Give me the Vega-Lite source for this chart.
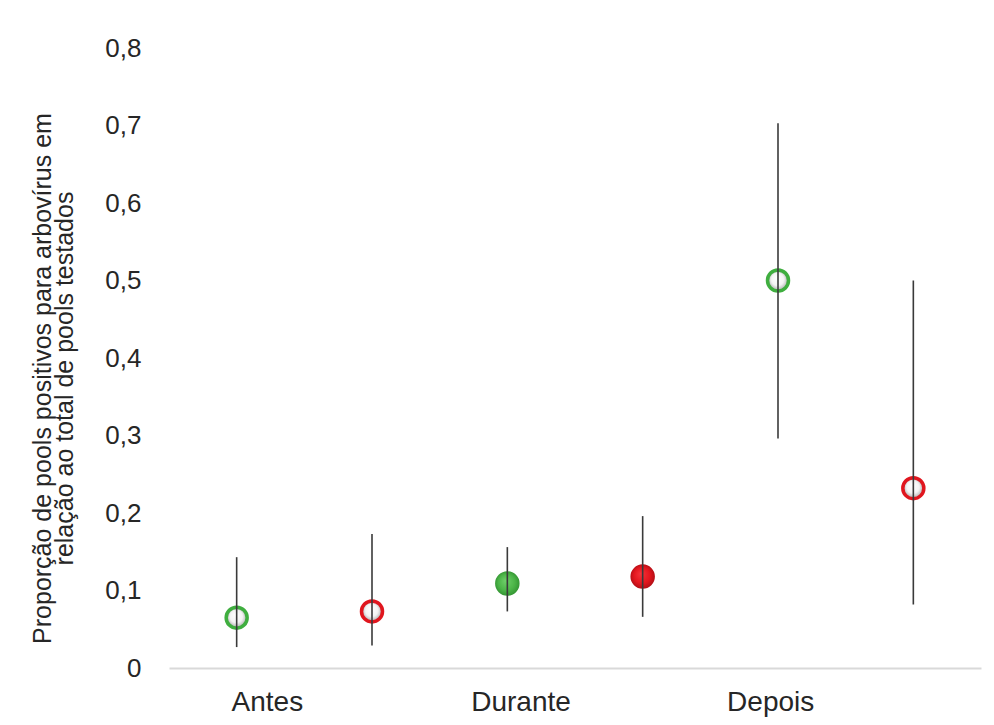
{
  "$schema": "https://vega.github.io/schema/vega-lite/v6.json",
  "width": 812,
  "height": 620,
  "autosize": {"type": "none"},
  "padding": {"left": 169, "top": 48, "right": 13, "bottom": 57},
  "background": "#ffffff",
  "config": {
    "view": {"stroke": null},
    "font": "Liberation Sans"
  },
  "data": {
    "values": [
      {"periodo": "Antes", "serie": "A", "prop": 0.065, "inf": 0.027, "sup": 0.143},
      {"periodo": "Antes", "serie": "B", "prop": 0.073, "inf": 0.029, "sup": 0.173},
      {"periodo": "Durante", "serie": "A", "prop": 0.109, "inf": 0.073, "sup": 0.156},
      {"periodo": "Durante", "serie": "B", "prop": 0.118, "inf": 0.066, "sup": 0.196},
      {"periodo": "Depois", "serie": "A", "prop": 0.5, "inf": 0.296, "sup": 0.703},
      {"periodo": "Depois", "serie": "B", "prop": 0.232, "inf": 0.082, "sup": 0.5}
    ]
  },
  "encoding": {
    "x": {
      "field": "periodo",
      "type": "nominal",
      "sort": ["Antes", "Durante", "Depois"],
      "scale": {"paddingInner": 0, "paddingOuter": 0},
      "axis": {
        "title": null,
        "labelAngle": 0,
        "labelFontSize": 28,
        "labelColor": "#262626",
        "labelPadding": 20,
        "labelOffset": {
          "condition": [
            {"test": "datum.value == 'Antes'", "value": -37},
            {"test": "datum.value == 'Durante'", "value": -54}
          ],
          "value": -75
        },
        "ticks": false,
        "domainColor": "#d9d9d9",
        "domainWidth": 2,
        "grid": false
      }
    },
    "xOffset": {
      "field": "serie",
      "type": "nominal",
      "sort": ["A", "B"],
      "scale": {"paddingInner": 0, "paddingOuter": 0}
    },
    "y": {
      "field": "prop",
      "type": "quantitative",
      "scale": {"domain": [0, 0.8], "nice": false, "zero": true},
      "axis": {
        "title": ["Proporção de pools positivos para arbovírus em", "relação ao total de pools testados"],
        "titleFontSize": 25,
        "titleFontWeight": "normal",
        "titleColor": "#262626",
        "titleLineHeight": 22,
        "titlePadding": 27,
        "titleY": 330,
        "values": [0, 0.1, 0.2, 0.3, 0.4, 0.5, 0.6, 0.7, 0.8],
        "labelExpr": "datum.value == 0 ? '0' : replace(format(datum.value, '.1f'), '.', ',')",
        "labelFontSize": 26,
        "labelColor": "#262626",
        "labelPadding": 28,
        "ticks": false,
        "domain": false,
        "grid": false
      }
    }
  },
  "layer": [
    {
      "transform": [{"filter": "datum.periodo != 'Durante'"}],
      "mark": {
        "type": "point",
        "filled": true,
        "size": 441,
        "strokeWidth": 3.5,
        "opacity": 1,
        "fill": {
          "gradient": "radial",
          "x1": 0.45, "y1": 0.35, "r1": 0,
          "x2": 0.5, "y2": 0.5, "r2": 0.5,
          "stops": [
            {"offset": 0, "color": "#ffffff"},
            {"offset": 0.6, "color": "#f4f4f4"},
            {"offset": 1, "color": "#a6a6a6"}
          ]
        }
      },
      "encoding": {
        "stroke": {
          "field": "serie",
          "type": "nominal",
          "scale": {"domain": ["A", "B"], "range": ["#3fae3f", "#e0161e"]},
          "legend": null
        }
      }
    },
    {
      "transform": [{"filter": "datum.periodo == 'Durante'"}],
      "mark": {"type": "point", "filled": true, "size": 600, "opacity": 1, "strokeWidth": 0},
      "encoding": {
        "fill": {
          "condition": {
            "test": "datum.serie == 'A'",
            "value": {
              "gradient": "radial",
              "x1": 0.42, "y1": 0.38, "r1": 0,
              "x2": 0.5, "y2": 0.5, "r2": 0.55,
              "stops": [
                {"offset": 0, "color": "#6fcf6a"},
                {"offset": 0.6, "color": "#4cb548"},
                {"offset": 1, "color": "#2f8f2f"}
              ]
            }
          },
          "value": {
            "gradient": "radial",
            "x1": 0.42, "y1": 0.38, "r1": 0,
            "x2": 0.5, "y2": 0.5, "r2": 0.55,
            "stops": [
              {"offset": 0, "color": "#f5333a"},
              {"offset": 0.6, "color": "#e3161e"},
              {"offset": 1, "color": "#a80d14"}
            ]
          }
        }
      }
    },
    {
      "mark": {"type": "rule", "color": "#3a3a3a", "strokeWidth": 1.6},
      "encoding": {
        "y": {"field": "inf", "type": "quantitative"},
        "y2": {"field": "sup"}
      }
    }
  ]
}
